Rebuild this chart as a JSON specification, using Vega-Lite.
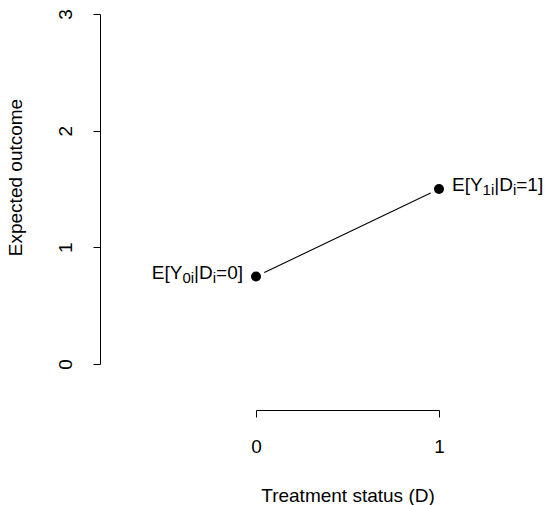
{
  "$schema": "https://vega.github.io/schema/vega-lite/v6.json",
  "width": 183,
  "height": 350,
  "autosize": {"type": "none"},
  "padding": {"left": 256, "top": 14, "right": 107, "bottom": 141},
  "background": "white",
  "config": {
    "view": {"stroke": null},
    "font": "Liberation Sans",
    "axis": {
      "grid": false,
      "domainColor": "black",
      "tickColor": "black",
      "labelColor": "black",
      "titleColor": "black",
      "labelFont": "Liberation Sans",
      "titleFont": "Liberation Sans",
      "labelFontSize": 19,
      "titleFontSize": 19,
      "titleFontWeight": "normal",
      "tickSize": 7,
      "domainWidth": 1,
      "tickWidth": 1
    }
  },
  "data": {
    "values": [
      {"D": 0, "Y": 0.75, "head": "E[Y", "sub1": "0i", "mid": "|D", "sub2": "i", "tail": "=0]"},
      {"D": 1, "Y": 1.5, "head": "E[Y", "sub1": "1i", "mid": "|D", "sub2": "i", "tail": "=1]"}
    ]
  },
  "encoding": {
    "x": {
      "field": "D",
      "type": "quantitative",
      "scale": {"domain": [0, 1], "nice": false, "zero": false},
      "axis": {
        "title": "Treatment status (D)",
        "values": [0, 1],
        "format": "d",
        "offset": 46,
        "labelPadding": 20,
        "labelBaseline": "top",
        "labelFlush": false,
        "titleY": 85,
        "titleBaseline": "middle"
      }
    },
    "y": {
      "field": "Y",
      "type": "quantitative",
      "scale": {"domain": [0, 3], "nice": false, "zero": false},
      "axis": {
        "title": "Expected outcome",
        "values": [0, 1, 2, 3],
        "format": "d",
        "offset": 156,
        "labelAngle": -90,
        "labelAlign": "center",
        "labelBaseline": "alphabetic",
        "labelPadding": 22,
        "labelFlush": false,
        "titleAngle": -90,
        "titleAlign": "center",
        "titleBaseline": "middle",
        "titleX": -85,
        "titleY": 163
      }
    }
  },
  "layer": [
    {"mark": {"type": "line", "color": "black", "strokeWidth": 1.1}},
    {"mark": {"type": "point", "shape": "circle", "filled": true, "color": "white", "opacity": 1, "size": 340}},
    {"mark": {"type": "point", "shape": "circle", "filled": true, "color": "black", "opacity": 1, "size": 100}},
    {
      "transform": [{"filter": "datum.D == 0"}],
      "layer": [
        {"mark": {"type": "text", "align": "left", "baseline": "middle", "fontSize": 19, "dx": -104.2, "dy": -4, "color": "black"}, "encoding": {"text": {"field": "head"}}},
        {"mark": {"type": "text", "align": "left", "baseline": "middle", "fontSize": 15, "dx": -73.6, "dy": 1, "color": "black"}, "encoding": {"text": {"field": "sub1"}}},
        {"mark": {"type": "text", "align": "left", "baseline": "middle", "fontSize": 19, "dx": -61.93, "dy": -4, "color": "black"}, "encoding": {"text": {"field": "mid"}}},
        {"mark": {"type": "text", "align": "left", "baseline": "middle", "fontSize": 15, "dx": -43.27, "dy": 1, "color": "black"}, "encoding": {"text": {"field": "sub2"}}},
        {"mark": {"type": "text", "align": "left", "baseline": "middle", "fontSize": 19, "dx": -39.94, "dy": -4, "color": "black"}, "encoding": {"text": {"field": "tail"}}}
      ]
    },
    {
      "transform": [{"filter": "datum.D == 1"}],
      "layer": [
        {"mark": {"type": "text", "align": "left", "baseline": "middle", "fontSize": 19, "dx": 13, "dy": -4, "color": "black"}, "encoding": {"text": {"field": "head"}}},
        {"mark": {"type": "text", "align": "left", "baseline": "middle", "fontSize": 15, "dx": 43.6, "dy": 1, "color": "black"}, "encoding": {"text": {"field": "sub1"}}},
        {"mark": {"type": "text", "align": "left", "baseline": "middle", "fontSize": 19, "dx": 55.27, "dy": -4, "color": "black"}, "encoding": {"text": {"field": "mid"}}},
        {"mark": {"type": "text", "align": "left", "baseline": "middle", "fontSize": 15, "dx": 73.93, "dy": 1, "color": "black"}, "encoding": {"text": {"field": "sub2"}}},
        {"mark": {"type": "text", "align": "left", "baseline": "middle", "fontSize": 19, "dx": 77.26, "dy": -4, "color": "black"}, "encoding": {"text": {"field": "tail"}}}
      ]
    }
  ]
}
